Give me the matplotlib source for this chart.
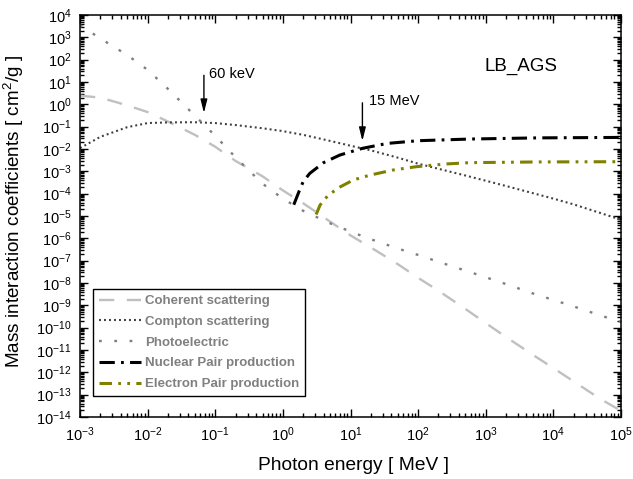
import matplotlib
matplotlib.use("Agg")
import matplotlib.pyplot as plt
from matplotlib.ticker import LogLocator, NullFormatter

plt.rcParams["font.family"] = ["Liberation Sans", "DejaVu Sans"]
plt.rcParams["mathtext.fontset"] = "custom"
plt.rcParams["mathtext.rm"] = "Liberation Sans"
plt.rcParams["lines.scale_dashes"] = False

# shared energy grid [MeV]
energy = [1e-3, 2e-3, 5e-3, 1e-2, 2e-2, 5e-2, 0.1, 0.2, 0.5, 1, 2, 5, 10, 20, 50,
          100, 200, 500, 1e3, 2e3, 5e3, 1e4, 2e4, 5e4, 1e5]

coherent = [2.45, 2.0, 0.9, 0.45, 0.17, 0.043, 0.0126, 2.9e-3, 6.0e-4, 1.4e-4,
            3.7e-5, 5.6e-6, 1.35e-6, 3.9e-7, 7.0e-8, 1.7e-8, 4.5e-9, 6.9e-10,
            1.6e-10, 3.8e-11, 6.0e-12, 1.55e-12, 3.9e-13, 6.3e-14, 1.9e-14]

compton = [0.011, 0.035, 0.095, 0.145, 0.155, 0.158, 0.145, 0.118, 0.085, 0.063,
           0.043, 0.023, 0.014, 8.7e-3, 4.1e-3, 2.2e-3, 1.3e-3, 6.5e-4, 3.8e-4,
           2.2e-4, 1.05e-4, 6.0e-5, 3.3e-5, 1.35e-5, 6.8e-6]

photo = [3500, 890, 160, 35, 4.9, 0.31, 0.039, 4.2e-3, 2.8e-4, 6.0e-5, 1.7e-5,
         4.7e-6, 2.0e-6, 9.1e-7, 3.5e-7, 1.8e-7, 8.9e-8, 3.6e-8, 1.8e-8, 8.9e-9,
         3.4e-9, 1.74e-9, 8.9e-10, 3.5e-10, 1.8e-10]

nuc_energy = [1.45, 1.75, 2, 2.5, 4, 7, 15, 35, 100, 600, 6000, 1e5]
nuc_pair = [3.2e-5, 1.35e-4, 3.5e-4, 8.1e-4, 2.45e-3, 5.4e-3, 1.07e-2, 1.78e-2,
            2.35e-2, 2.8e-2, 3.15e-2, 3.3e-2]

el_energy = [3.1, 3.55, 4.7, 7.1, 11, 19.5, 43, 95, 260, 590, 5750, 1e5]
el_pair = [1.17e-5, 3.1e-5, 8.7e-5, 2.04e-4, 4.1e-4, 6.8e-4, 1.15e-3, 1.62e-3,
           2.14e-3, 2.45e-3, 2.63e-3, 2.7e-3]

fig = plt.figure(figsize=(6.33, 4.79), dpi=100)
ax = fig.add_axes([80 / 633, 62 / 479, 541 / 633, 402 / 479])

ax.plot(energy, coherent, color="#c0c0c0", lw=1.7, dashes=(11, 9),
        label="Coherent scattering")
ax.plot(energy, compton, color="#404040", lw=1.5, dashes=(1.4, 2.2),
        label="Compton scattering")
ax.plot(energy, photo, color="#808080", lw=1.7, dashes=(2, 9),
        label="Photoelectric")
ax.plot(nuc_energy, nuc_pair, color="black", lw=2.2, dashes=(11, 4.5, 2, 4.5),
        label="Nuclear Pair production")
ax.plot(el_energy, el_pair, color="#808000", lw=2.2, dashes=(9, 4.5, 2, 4.5, 2, 4.5),
        label="Electron Pair production")

ax.set_xscale("log")
ax.set_yscale("log")
ax.set_xlim(1e-3, 1e5)
ax.set_ylim(1e-14, 1e4)

ax.xaxis.set_major_locator(LogLocator(base=10, numticks=20))
ax.yaxis.set_major_locator(LogLocator(base=10, numticks=30))
for axis in (ax.xaxis, ax.yaxis):
    axis.set_minor_locator(LogLocator(base=10, subs=range(2, 10), numticks=100))
    axis.set_minor_formatter(NullFormatter())

ax.tick_params(which="both", direction="in", top=True, right=True, width=1,
               labelsize=10.5)
ax.tick_params(which="major", length=6, pad=6)
ax.tick_params(which="minor", length=3)
for sp in ax.spines.values():
    sp.set_linewidth(1.1)

ax.set_xlabel("Photon energy [ MeV ]", fontsize=13.8)
ax.set_ylabel(r"Mass interaction coefficients [ cm$^\mathdefault{2}$/g ]",
              fontsize=13.6)
ax.xaxis.set_label_coords(0.505, -0.1)
ax.yaxis.set_label_coords(-0.1, 0.512)

arrow = dict(arrowstyle="-|>,head_length=0.8,head_width=0.2", color="black", lw=1,
             shrinkA=0, shrinkB=0)
ax.annotate("", xy=(0.068, 0.41), xytext=(0.068, 20), arrowprops=arrow)
ax.text(0.081, 23, "60 keV", fontsize=10.5, va="center", ha="left")
ax.annotate("", xy=(15, 0.023), xytext=(15, 1.17), arrowprops=arrow)
ax.text(19, 1.4, "15 MeV", fontsize=10.5, va="center", ha="left")

ax.text(0.815, 0.871, "LB_AGS", transform=ax.transAxes, fontsize=13.5,
        ha="center", va="center")

leg = ax.legend(loc="lower left", bbox_to_anchor=(0.024, 0.052), borderaxespad=0,
                prop=dict(size=9.5, weight="bold"), labelcolor="#808080",
                handlelength=3.2, handletextpad=0.3, labelspacing=0.64,
                borderpad=0.45, fancybox=False, framealpha=1)
leg.get_frame().set_edgecolor("black")
leg.get_frame().set_linewidth(1)

fig.savefig("out.png", dpi=100)
